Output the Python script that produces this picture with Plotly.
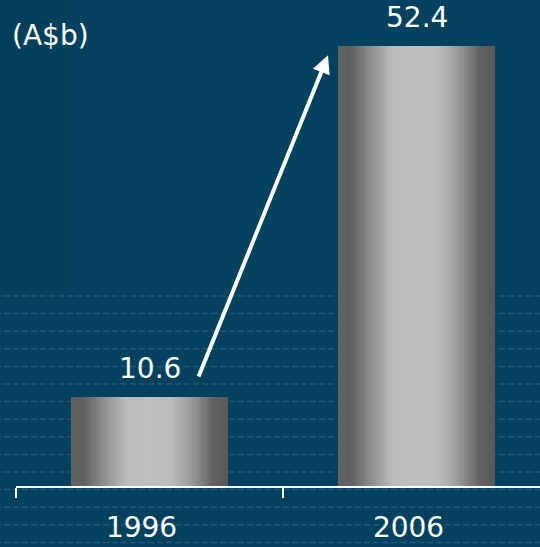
import plotly.graph_objects as go

# ---- data ----
categories = ["1996", "2006"]
values = [10.6, 52.4]
value_labels = ["10.6", "52.4"]
unit_label = "(A$b)"

# ---- style ----
BG = "#03425f"
FONT = "DejaVu Sans"
bar_width = 0.588
n_strips = 70
# metallic horizontal gradient stops (position, grey level)
grad = [(0.0, 98), (0.08, 95), (0.2, 138), (0.35, 187), (0.5, 190), (0.63, 188),
        (0.72, 168), (0.8, 140), (0.9, 99), (1.0, 88)]


def grey_at(t):
    for (p0, g0), (p1, g1) in zip(grad[:-1], grad[1:]):
        if p0 <= t <= p1:
            g = g0 + (g1 - g0) * (t - p0) / (p1 - p0)
            g = int(round(g))
            return f"rgb({g},{g},{g})"
    return "rgb(88,88,88)"


fig = go.Figure()
sw = bar_width / n_strips
for i in range(n_strips):
    t = (i + 0.5) / n_strips
    fig.add_trace(go.Bar(
        x=categories, y=values,
        offset=-bar_width / 2 + i * sw,
        width=sw * (1.6 if i < n_strips - 1 else 1.0),
        marker=dict(color=grey_at(t), line=dict(width=0)),
        showlegend=False, hoverinfo="skip",
    ))

shapes = []
# subtle darker band on the left
shapes.append(dict(type="rect", xref="paper", yref="paper", x0=-0.04, x1=0.094, y0=0.4, y1=1,
                   fillcolor="rgba(0,0,0,0.035)", line=dict(width=0), layer="below"))
# decorative dashed lines in lower half (pixel rows)
plot_h = 486
for k in range(15):
    py = 296 + k * 17.6
    yp = (plot_h - py) / plot_h
    shapes.append(dict(type="line", xref="paper", yref="paper", x0=-0.04, x1=1.0, y0=yp, y1=yp,
                       line=dict(color="rgba(100,155,185,0.28)", width=1.5, dash="6px,3px"),
                       layer="below"))

annotations = []
for idx, (v, lab) in enumerate(zip(values, value_labels)):
    annotations.append(dict(x=idx, y=v, xref="x", yref="y", text=lab, showarrow=False,
                            yanchor="bottom", yshift=10, font=dict(family=FONT, size=28, color="white")))
annotations.append(dict(x=0, y=1, xref="paper", yref="paper", text=unit_label, showarrow=False,
                        xanchor="left", yanchor="middle", xshift=-6, yshift=-35,
                        font=dict(family=FONT, size=28, color="white")))
# growth arrow from first value label to top of second bar
annotations.append(dict(x=0.6685, y=values[1] - 1.1, ax=0.1816, ay=values[0] + 2.26,
                        xref="x", yref="y", axref="x", ayref="y", text="",
                        showarrow=True, arrowhead=2, arrowsize=0.9, arrowwidth=4, arrowcolor="white"))

fig.update_layout(
    width=540, height=547,
    margin=dict(l=16, r=0, t=0, b=61),
    paper_bgcolor=BG, plot_bgcolor=BG,
    barmode="overlay", bargap=0,
    shapes=shapes, annotations=annotations,
    xaxis=dict(type="category", range=[-0.5, 1.4625], showgrid=False, zeroline=False,
               automargin=False,
               showline=True, linecolor="white", linewidth=2,
               ticks="outside", tickson="boundaries", ticklen=10, tickwidth=2, tickcolor="white",
               tickfont=dict(family=FONT, size=28, color="white"),
               ticklabelstandoff=15, ticklabelshift=-8),
    yaxis=dict(range=[0, 486 / 8.396], visible=False, showgrid=False, zeroline=False,
               automargin=False),
)

fig.write_html("out.html", config={"displayModeBar": False},
               post_script="document.body.style.margin='0';document.body.style.overflow='hidden';")
